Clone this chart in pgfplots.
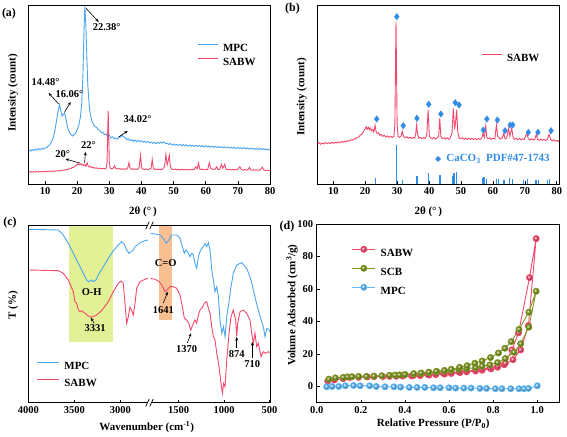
\documentclass[border=0pt]{standalone}
\usepackage{fontspec}
\setmainfont{Liberation Serif}
\newfontfamily\dejavu{DejaVu Sans}
\usepackage{pgfplots}
\usepackage{pgfplotstable}
\pgfplotsset{compat=1.18}
\usetikzlibrary{arrows.meta}

\definecolor{mpcblue}{RGB}{75,165,240}
\definecolor{sabwred}{RGB}{242,72,108}
\definecolor{scbgreen}{RGB}{125,150,30}
\definecolor{dmdblue}{RGB}{50,140,230}
\definecolor{greenshade}{RGB}{226,240,150}
\definecolor{orangeshade}{RGB}{248,192,145}
\definecolor{ballblue}{RGB}{95,185,250}

\tikzset{
  ann/.style={font=\bfseries\fontsize{10.5}{12}\selectfont},
  arr/.style={-{Stealth[length=3.5pt,width=3pt]}, line width=0.6pt, black},
}
\pgfplotsset{
  myaxis/.style={
    scale only axis,
    axis line style={line width=0.75pt, black},
    tick style={line width=0.6pt, black},
    major tick length=3pt,
    tick align=inside,
    tick pos=left,
    tick label style={font=\bfseries\fontsize{10.5}{12}\selectfont},
    /pgf/number format/assume math mode=true,
    /pgf/number format/1000 sep={},
    scaled ticks=false,
    legend cell align=left,
    legend style={draw=none, fill=none, inner sep=0pt, column sep=5pt,
      font=\bfseries\fontsize{11}{13}\selectfont,
      nodes={inner sep=0pt, text height=7.3pt, text depth=0pt}},
    legend image code/.code={\draw[##1, mark repeat=2, mark phase=2] plot coordinates {(0pt,3.6pt) (10pt,3.6pt) (20pt,3.6pt)};},
  },
}

\pgfplotstableread{
x y
5 40.3
5.5 41.6
6 40.1
6.5 41.3
7 40.4
7.5 41.8
8 40.6
8.5 41.5
9 40.7
9.5 42
10 40.9
10.5 42.2
11 41.2
11.5 42.4
12 41.5
12.5 42.8
13 41.9
13.5 43.2
14 42.4
14.5 43.7
15 43.1
15.5 44.5
16 44
16.5 45.6
17 45.3
17.5 47
18 47
18.5 49.5
19 50
19.5 53
20 55.5
20.3 57.5
20.6 55
21 57
21.3 54.5
21.7 56.5
22 53.5
22.4 55
22.7 52
23.1 59
23.4 53
23.8 50.5
24.2 51.5
24.6 49
25 50
25.5 48
26 49
26.5 47.3
27 48.4
27.5 47
28 48
28.5 46.8
29 48
29.3 60
29.5 120
29.65 162.7
29.8 120
30 60
30.3 48
30.7 47
31.2 48
31.6 53
32 48
32.5 46.5
33 47.5
33.5 46
34 47.2
34.5 45.8
35 47
35.5 46.2
35.8 50
36.1 59.3
36.4 50
36.8 46
37.3 47
37.8 45.6
38.3 46.8
38.8 45.8
39.3 50
39.7 74.3
40.1 48
40.5 46.5
41 45.5
41.5 46.8
42 45.3
42.5 46.5
43 48
43.35 66
43.7 48
44.2 45.4
44.7 46.6
45.2 45.2
45.7 46.5
46.2 45
46.7 47
47.2 52
47.6 76
48 55
48.3 62
48.65 74.3
49 52
49.4 46
49.9 45.5
50.5 46.5
51 45
51.5 46.3
52 44.8
52.5 46.2
53 44.9
53.5 46
54 44.7
54.5 45.8
55 44.6
55.5 45.9
56 45
56.5 46.2
56.9 51
57.3 47
57.75 58.3
58.1 47
58.5 45.5
59 46.5
59.5 44.8
60 46
60.6 45.2
61.1 59.3
61.5 48
61.9 46.5
62.4 45.4
62.9 46.2
63.4 51
63.8 45.5
64.3 46
64.9 56
65.3 48
65.9 56
66.3 47
66.8 45
67.3 46
67.8 44.6
68.3 45.8
68.8 44.5
69.3 45.6
69.8 44.8
70.6 51
71.1 45.5
71.6 44.3
72.1 45.5
72.6 44.2
73.1 45
73.6 50
74 44.8
74.5 44
75 45.3
75.5 44
76 45
76.5 43.8
77 45
77.6 50
78.1 44.6
78.6 43.5
79.1 44.4
79.6 43.2
80.1 44
80.5 42.8
80.7 43.5
}\sabwxrd

\begin{document}
\begin{tikzpicture}[x=1pt,y=1pt]
\useasboundingbox (0,0) rectangle (567,436);

% ================= (a) =================
\begin{axis}[myaxis, at={(28.3pt,251.7pt)}, anchor=south west,
  width=242.4pt, height=179.3pt,
  xmin=4.8, xmax=80.2, ymin=0, ymax=179.3,
  xtick={10,20,...,80}, ytick=\empty,
  legend style={at={(axis description cs:0.696,0.786)}, anchor=north west, row sep=6.7pt}]
\addplot[color=mpcblue, line width=0.9pt] coordinates {
(5,34.5) (5.5,33.2) (6,34.8) (6.5,33.6) (7,35.2) (7.5,34.1) (8,35.6) (8.5,34.6) (9,36.0) (9.5,35.0)
(10,36.6) (10.5,36.4) (11,38.5) (11.5,39.6) (12,42.5) (12.5,46) (13,52.5) (13.5,62) (14,72) (14.48,79.5)
(14.9,74) (15.3,68) (15.7,70) (16.06,71.5) (16.5,65) (17,57) (17.5,52.5) (18,50) (18.5,48.3) (19,49.5)
(19.5,51) (20,54.5) (20.5,59) (21,67) (21.4,80) (21.8,110) (22.1,150) (22.38,178) (22.7,160) (23,128)
(23.3,100) (23.7,81) (24,72) (24.5,64) (25,60.5) (25.5,57.6) (26,57) (26.5,54.8) (27,54) (27.5,51.7)
(28,52.2) (28.5,49.6) (29,50.3) (29.5,47.8) (30,48.9) (30.5,46.5) (31,47.5) (31.5,45.4) (32,46.4) (32.5,45.1)
(33,47) (33.5,47.2) (34,49) (34.5,47.3) (35,46.8) (35.5,44.6) (36,45.4) (36.5,43.5) (37,44.6) (37.5,43)
(38,44.2) (38.5,42.6) (39,43.9) (39.5,42.4) (40,43.6) (40.5,42) (41,43.1) (41.5,41.7) (42,42.8) (42.5,41.3)
(43,42.3) (43.5,40.9) (44,42.1) (44.5,40.6) (45,41.9) (45.5,40.9) (46,42.3) (46.5,41.2) (47,42.4) (47.5,40.6)
(48,41.2) (48.5,39.7) (49,40.8) (49.5,39.3) (50,40.3) (50.5,39) (51,40.1) (51.5,38.8) (52,39.9) (52.5,38.6)
(53,39.7) (53.5,38.4) (54,39.5) (54.5,38.2) (55,39.3) (55.5,38) (56,39.1) (56.5,37.9) (57,39) (57.5,37.8)
(58,38.9) (58.5,37.6) (59,38.7) (59.5,37.5) (60,38.6) (60.5,37.3) (61,38.3) (61.5,37.1) (62,38.1) (62.5,36.9)
(63,38) (63.5,36.8) (64,37.8) (64.5,36.6) (65,37.6) (65.5,36.4) (66,37.5) (66.5,36.3) (67,37.3) (67.5,36.1)
(68,37.2) (68.5,36) (69,37) (69.5,35.8) (70,36.9) (70.5,35.7) (71,36.7) (71.5,35.5) (72,36.6) (72.5,35.4)
(73,36.4) (73.5,35.2) (74,36.3) (74.5,35.1) (75,36.1) (75.5,34.9) (76,36) (76.5,34.8) (77,35.8) (77.5,34.6)
(78,35.6) (78.5,34.4) (79,35.4) (79.5,34.3) (80,35.2)};
\addlegendentry{MPC}
\addplot[color=sabwred, line width=0.9pt] table[x=x, y expr=0.5*\thisrow{y}-8] {\sabwxrd};
\addlegendentry{SABW}
\draw[arr] (axis cs:22.66,176.3) -- (axis cs:26.7,162.3);
\node[ann] at (axis cs:29.2,157.3) {22.38°};
\draw[arr] (axis cs:14.24,80.3) -- (axis cs:11.13,91.3);
\node[ann] at (axis cs:10.2,102.3) {14.48°};
\draw[arr] (axis cs:16.1,72.3) -- (axis cs:17.97,82.3);
\node[ann] at (axis cs:17.6,90.3) {16.06°};
\draw[arr] (axis cs:32.9,47.3) -- (axis cs:35.7,53.3);
\node[ann] at (axis cs:38.8,65.3) {34.02°};
\draw[arr] (axis cs:20.8,21.3) -- (axis cs:16.4,25.3);
\node[ann] at (axis cs:15.5,30.3) {20°};
\draw[arr] (axis cs:22.3,21.3) -- (axis cs:22.6,32.3);
\node[ann] at (axis cs:23.5,39.3) {22°};
\end{axis}

% ================= (b) =================
\begin{axis}[myaxis, at={(317.3pt,251.7pt)}, anchor=south west,
  width=241.7pt, height=179.3pt,
  xmin=5, xmax=80.7, ymin=0, ymax=179.3,
  xtick={10,20,...,80}, ytick=\empty,
  legend style={at={(axis description cs:0.677,0.729)}, anchor=north west, row sep=6.7pt}]
\addplot[color=sabwred, line width=0.9pt] table[x=x,y=y] {\sabwxrd};
\addlegendentry{SABW}
\addplot[ycomb, color=dmdblue, line width=1.3pt, forget plot] coordinates {
(23.2,6.7) (29.7,39.3) (31.6,4.3) (36.2,8.7) (39.8,11) (43.4,9.3) (47.3,8) (47.8,11.5) (48.7,12)
(56.8,6) (57.2,7) (57.9,5) (61.2,5.3) (61.7,5) (63.5,4.3) (65.2,6) (66.1,5) (69.6,4.3) (70.9,5)
(73.5,4.3) (74.3,4.3) (77.1,4.3) (77.7,5)};
\addplot[only marks, mark=diamond*, mark size=3.2pt, color=dmdblue, forget plot] coordinates {
(23.6,65.3) (29.9,167.6) (31.9,58.6) (36.2,66) (39.9,80) (43.7,70.3) (48.2,81.6) (49.4,79.3)
(57.0,54.3) (58.1,65.3) (61.4,64.3) (63.8,53.6) (65.4,59.3) (66.2,59.3) (71.1,52) (74.1,52) (78.2,53.6)};
\node[text=dmdblue, anchor=center, font=\dejavu\fontsize{8}{9}\selectfont] at (axis cs:42.9,25.3) {◆};
\node[text=dmdblue, anchor=west, font=\bfseries\fontsize{11}{13}\selectfont] at (axis cs:44.3,25.3) {CaCO\textsubscript{3}\ \ PDF\#47-1743};
\end{axis}

% ================= (c) left =================
\begin{axis}[myaxis, at={(28.3pt,33.3pt)}, anchor=south west,
  width=119.7pt, height=177pt,
  separate axis lines, axis line style={draw=none},
  x dir=reverse, xmin=2699, xmax=4000, ymin=0, ymax=177,
  xtick={3000,3500,4000}, ytick=\empty,
  legend style={at={(axis description cs:0.07,0.2297)}, anchor=north west, row sep=9.3pt},
  legend image code/.code={\draw[#1] (0pt,3.6pt) -- (21.6pt,3.6pt);}]
\addplot[fill=greenshade, draw=none, forget plot] coordinates {(3554,61) (3554,177) (3076,177) (3076,61)} -- cycle;
\addplot[color=mpcblue, line width=0.9pt] coordinates {
(4000,173.4) (3674,172.7) (3620,167.7) (3565,159.4) (3511,149.4) (3456,139.4) (3402,129.4) (3366,122.7)
(3340,121) (3311,122.7) (3293,121) (3264,122.7) (3239,127.7) (3185,136) (3130,144.4) (3076,152)
(3022,157.7) (2985,161) (2957,158.7) (2931,152.7) (2906,149.4) (2884,151) (2859,152.7) (2840,156)
(2786,160) (2732,162) (2699,162.7)};
\addlegendentry{MPC}
\addplot[color=sabwred, line width=0.9pt] coordinates {
(4000,132.7) (3674,132) (3620,129.4) (3565,122.7) (3511,111) (3493,101) (3474,99.4) (3456,92.7)
(3438,91) (3420,92) (3384,89.4) (3347,86.7) (3311,85.4) (3257,87.7) (3203,92) (3130,101) (3076,111)
(3022,119.4) (2993,121.7) (2968,119.4) (2949,99.4) (2931,79.4) (2913,86) (2895,95.4) (2877,92.7)
(2859,87.7) (2840,99.4) (2822,114.4) (2786,121) (2732,123.4) (2699,124.4)};
\addlegendentry{SABW}
\node[ann] at (axis cs:3311,111) {O-H};
\draw[arr] (axis cs:3283,79.4) -- (axis cs:3322,85);
\node[ann] at (axis cs:3275,74.4) {3331};
\end{axis}

% ================= (c) right =================
\begin{axis}[myaxis, at={(150.6pt,33.3pt)}, anchor=south west,
  width=120.1pt, height=177pt,
  separate axis lines, axis line style={draw=none},
  x dir=reverse, xmin=487, xmax=1807, ymin=0, ymax=177,
  xtick={500,1000,1500}, ytick=\empty]
\addplot[fill=orangeshade, draw=none] coordinates {(1714,82.7) (1714,177) (1568,177) (1568,82.7)} -- cycle;
\addplot[color=mpcblue, line width=0.9pt] coordinates {
(1813,169.4) (1758,168.7) (1703,167.7) (1667,164.4) (1637,159.4) (1612,162) (1575,167.7) (1520,167.7)
(1484,164.4) (1458,156) (1436,149.4) (1418,152.7) (1399,151) (1374,146) (1355,149.4) (1337,147.7)
(1319,139.4) (1300,134.4) (1282,146) (1264,151) (1245,154.4) (1227,156) (1209,159.4) (1190,156)
(1172,160) (1154,152.7) (1135,132.7) (1117,122.7) (1099,111) (1080,116) (1062,106) (1044,82.7)
(1025,69.4) (1007,76) (989,66) (970,86) (953,96) (923,116) (898,129.4) (860,137.7) (805,140)
(751,134.4) (703,122.7) (678,112.7) (652,102.7) (623,92.7) (593,82.7) (568,76) (549,66) (531,74.4)
(505,72.7) (487,69.8)};
\addplot[color=sabwred, line width=0.9pt] coordinates {
(1813,124.4) (1758,123.4) (1714,121) (1685,117.7) (1648,111) (1630,112.7) (1593,116) (1557,116)
(1520,114.4) (1484,107.7) (1458,96) (1436,84.4) (1411,82.7) (1387,79.4) (1366,72.7) (1337,79.4)
(1319,82.7) (1300,79.4) (1282,87.7) (1264,92.7) (1238,95.4) (1216,99.4) (1190,101) (1172,94.4)
(1154,89.4) (1135,76) (1117,66) (1099,62.7) (1080,49.4) (1055,36) (1033,19.4) (1018,9.4) (1004,19.4)
(989,16) (970,42.7) (945,69.4) (923,86) (898,92.7) (872,82.7) (860,66) (850,79.4) (824,91)
(788,92.7) (751,89.4) (715,82.7) (696,69.4) (678,59.4) (660,69.4) (641,56) (623,59.4) (593,46)
(568,51) (543,49.4) (513,51) (487,49.6)};
\node[ann] at (axis cs:1641,139.4) {C=O};
\draw[arr] (axis cs:1667,99.7) -- (axis cs:1619,111);
\node[ann] at (axis cs:1667,92.7) {1641};
\draw[arr] (axis cs:1403,59.7) -- (axis cs:1363,69.4);
\node[ann] at (axis cs:1410,53.4) {1370};
\draw[arr] (axis cs:860,54.7) -- (axis cs:860,65.7);
\node[ann] at (axis cs:860,48.4) {874};
\draw[arr] (axis cs:689,44.7) -- (axis cs:689,60.7);
\node[ann] at (axis cs:689,38.7) {710};
\end{axis}

% frame of (c) with break marks
\draw[line width=0.75pt, black] (148,33.3) -- (28.3,33.3) -- (28.3,210.3) -- (148,210.3);
\draw[line width=0.75pt, black] (150.6,33.3) -- (270.7,33.3) -- (270.7,210.3) -- (150.6,210.3);
\draw[line width=0.7pt] (145.7,29.5) -- (149.2,37) (149.7,29.5) -- (153.2,37);
\draw[line width=0.7pt] (145.7,206.8) -- (149.2,214.3) (149.7,206.8) -- (153.2,214.3);

% ================= (d) =================
\begin{axis}[myaxis, at={(316.7pt,33.3pt)}, anchor=south west,
  width=242.6pt, height=178.7pt,
  xmin=0, xmax=1.1, ymin=-10, ymax=100,
  xtick={0,0.2,...,1.0}, ytick={0,20,...,100},
  xticklabel style={/pgf/number format/fixed, /pgf/number format/fixed zerofill, /pgf/number format/precision=1},
  legend style={at={(axis description cs:0.144,0.879)}, anchor=north west, row sep=8.3pt},
  legend image code/.code={\draw[#1, mark repeat=2, mark phase=2] plot coordinates {(0pt,3.6pt) (11.5pt,3.6pt) (23pt,3.6pt)};}]
\addplot[color=sabwred, line width=0.9pt, mark=ball, mark size=3pt, mark options={ball color=sabwred}] coordinates {
(0.05,3.3) (0.08,4.0) (0.12,4.8) (0.15,5.5) (0.19,5.6) (0.23,5.9) (0.26,6.0) (0.3,6.1) (0.33,6.2)
(0.36,6.3) (0.39,6.4) (0.43,6.5) (0.47,6.7) (0.51,7.0) (0.54,7.3) (0.58,7.6) (0.61,8.0) (0.65,8.5)
(0.68,9.0) (0.72,9.5) (0.75,10.0) (0.79,10.8) (0.82,11.8) (0.85,13.4) (0.89,16.5) (0.925,22.5)
(0.96,37.5) (0.995,91) (0.965,67) (0.915,33) (0.885,22.5) (0.855,14.3) (0.82,12.5) (0.785,11.5)
(0.75,10.7) (0.72,10) (0.68,9.4) (0.645,8.9) (0.61,8.4) (0.575,8.0) (0.54,7.6) (0.505,7.3)
(0.47,7.0) (0.44,6.8)};
\addlegendentry{SABW}
\addplot[color=scbgreen, line width=0.9pt, mark=ball, mark size=3pt, mark options={ball color=scbgreen}] coordinates {
(0.055,4.5) (0.085,5.3) (0.12,5.6) (0.14,5.9) (0.16,6.0) (0.19,6.2) (0.225,6.2) (0.26,6.4) (0.295,6.6)
(0.33,6.9) (0.355,7.0) (0.375,7.1) (0.4,7.2) (0.44,7.6) (0.475,8.0) (0.51,8.5) (0.545,9.0) (0.58,9.5)
(0.61,10.0) (0.645,10.5) (0.68,11.0) (0.72,11.6) (0.75,12.5) (0.785,13.3) (0.82,14.7) (0.855,17.2)
(0.895,21) (0.925,26.3) (0.962,36.5) (0.995,58.6) (0.962,45.7) (0.917,35.1) (0.882,27.6) (0.853,23.5)
(0.824,20.6) (0.788,17.8) (0.75,15.7) (0.717,14.3) (0.682,12.8) (0.648,11.8) (0.61,10.6) (0.579,9.9)
(0.542,9.3) (0.508,8.8) (0.473,8.3) (0.44,7.9) (0.4,7.4)};
\addlegendentry{SCB}
\addplot[color=ballblue, line width=0.9pt, mark=ball, mark size=3pt, mark options={ball color=ballblue}] coordinates {
(0.045,-0.2) (0.07,0) (0.1,0) (0.13,0.4) (0.167,0.6) (0.197,0.4) (0.24,0.4) (0.27,0) (0.31,-0.2)
(0.35,-0.2) (0.38,-0.4) (0.42,-0.6) (0.455,-0.6) (0.49,-0.6) (0.53,-0.8) (0.56,-0.8) (0.6,-0.8)
(0.63,-1) (0.667,-1) (0.7,-1) (0.74,-1.2) (0.77,-1.2) (0.81,-1.4) (0.84,-1.4) (0.88,-1.4) (0.917,-1.4)
(0.94,-1.4) (0.96,-1.2) (1.0,0.4)};
\addlegendentry{MPC}
\end{axis}

% axis titles and panel labels
\begin{scope}[every node/.style={font=\bfseries\fontsize{11}{13}\selectfont}]
\node[rotate=90] at (13,343) {Intensity (count)};
\node at (143,224.3) {2θ (°\,)};
\node[rotate=90] at (301.7,339) {Intensity (count)};
\node at (428.3,224.3) {2θ (°\,)};
\node[rotate=90] at (13.3,131) {T (\%)};
\node at (146.7,9) {Wavenumber (cm\textsuperscript{-1})};
\node[rotate=90] at (292,131) {Volume Adsorbed (cm\textsuperscript{3}/g)};
\node at (433.3,11.7) {Relative Pressure (P/P\textsubscript{0})};
\end{scope}
\begin{scope}[every node/.style={font=\bfseries\fontsize{12}{14}\selectfont}]
\node at (9,422.7) {(a)};
\node at (292.5,427) {(b)};
\node at (10,213) {(c)};
\node at (287,209) {(d)};
\end{scope}
\end{tikzpicture}
\end{document}
